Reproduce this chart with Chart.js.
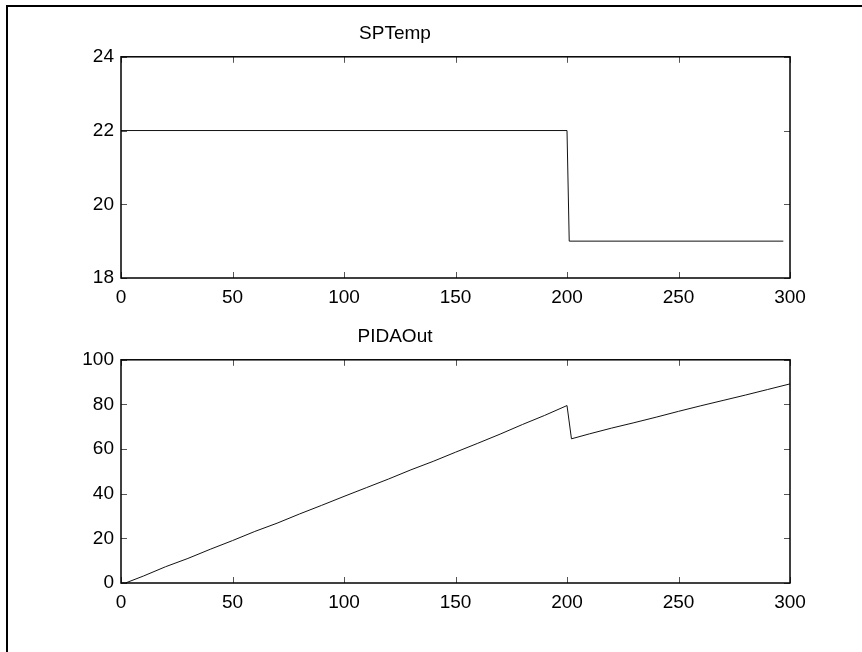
<!DOCTYPE html>
<html>
<head>
<meta charset="utf-8">
<script src="https://cdn.jsdelivr.net/npm/chart.js@4/dist/chart.umd.min.js"></script>
<style>
  html, body { margin: 0; padding: 0; background: #fff; overflow: hidden; }
  body { width: 862px; height: 652px; position: relative; }
  .frame {
    position: absolute; left: 6px; top: 5px;
    width: 900px; height: 700px;
    border: 2px solid #000;
  }
  canvas { position: absolute; left: 0; }
  #sptemp { top: 0; }
  #pidaout { top: 303px; }
</style>
</head>
<body>
<div class="frame"></div>
<canvas id="sptemp" width="862" height="310"></canvas>
<canvas id="pidaout" width="862" height="312"></canvas>
<script>
// x ticks shared by both plots
const time_ticks = [0, 50, 100, 150, 200, 250, 300];

// SPTemp (setpoint), step at t = 200
const sp_time = [0, 200, 201, 297];
const sp_value = [22, 22, 19, 19];
const sp_ticks = [18, 20, 22, 24];

// PIDAOut (controller output)
const pid_time = [0, 2, 10, 20, 30, 40, 50, 60, 70, 80, 90, 100, 110, 120, 130, 140, 150,
  160, 170, 180, 190, 200, 202, 210, 220, 230, 240, 250, 260, 270, 280, 290, 300];
const pid_value = [0, 0, 3.1, 7.3, 11.0, 15.1, 19.0, 23.1, 26.8, 30.9, 34.8, 38.8, 42.7, 46.6,
  50.7, 54.5, 58.6, 62.6, 66.7, 71.0, 75.1, 79.5, 64.6, 66.8, 69.4, 71.8, 74.3, 76.9, 79.4,
  81.8, 84.2, 86.7, 89.2];
const pid_ticks = [0, 20, 40, 60, 80, 100];

Chart.defaults.font.family = "'Liberation Sans', Arial, sans-serif";
Chart.defaults.font.size = 19;
Chart.defaults.color = "#000";

// matlab style box with inward ticks on all four sides
const boxPlugin = {
  id: "matlabBox",
  afterDatasetsDraw(chart) {
    const ctx = chart.ctx;
    const a = chart.chartArea;
    const xs = chart.scales.x;
    const ys = chart.scales.y;
    const len = 6;
    ctx.save();
    ctx.strokeStyle = "#555";
    ctx.lineWidth = 1;
    ctx.beginPath();
    xs.ticks.forEach(function (t) {
      const px = Math.round(xs.getPixelForValue(t.value)) + 0.5;
      ctx.moveTo(px, a.bottom);
      ctx.lineTo(px, a.bottom - len);
      ctx.moveTo(px, a.top);
      ctx.lineTo(px, a.top + len);
    });
    ys.ticks.forEach(function (t) {
      const py = Math.round(ys.getPixelForValue(t.value)) + 0.5;
      ctx.moveTo(a.left, py);
      ctx.lineTo(a.left + len, py);
      ctx.moveTo(a.right, py);
      ctx.lineTo(a.right - len, py);
    });
    ctx.stroke();
    ctx.strokeStyle = "#000";
    ctx.lineWidth = 1.5;
    ctx.strokeRect(a.left, a.top, a.right - a.left, a.bottom - a.top);
    ctx.restore();
  },
};

function makePoints(xs, ys) {
  return xs.map(function (x, i) {
    return { x: x, y: ys[i] };
  });
}

function makeChart(id, title, xs, ys, yTicks, xHeight) {
  const config = {
    type: "scatter",
    data: {
      datasets: [
        {
          data: makePoints(xs, ys),
          showLine: true,
          borderColor: "#111",
          borderWidth: 1,
          pointRadius: 0,
          tension: 0,
        },
      ],
    },
    options: {
      responsive: false,
      animation: false,
      layout: { padding: { left: 0, right: 72, top: 0, bottom: 0 } },
      plugins: {
        legend: { display: false },
        tooltip: { enabled: false },
        title: {
          display: true,
          text: title,
          font: { size: 19, weight: "normal" },
          color: "#000",
          padding: { top: 22, bottom: 12 },
        },
      },
      scales: {
        x: {
          type: "linear",
          min: time_ticks[0],
          max: time_ticks[time_ticks.length - 1],
          grid: { display: false, drawTicks: false },
          border: { display: false },
          afterBuildTicks: function (scale) {
            scale.ticks = time_ticks.map(function (v) { return { value: v }; });
          },
          afterFit: function (scale) { scale.height = xHeight; },
          ticks: { padding: 8, autoSkip: false, maxRotation: 0 },
        },
        y: {
          min: yTicks[0],
          max: yTicks[yTicks.length - 1],
          grid: { display: false, drawTicks: false },
          border: { display: false },
          afterBuildTicks: function (scale) {
            scale.ticks = yTicks.map(function (v) { return { value: v }; });
          },
          afterFit: function (scale) { scale.width = 121; },
          ticks: { padding: 7, crossAlign: "near" },
        },
      },
    },
    plugins: [boxPlugin],
  };
  return new Chart(document.getElementById(id), config);
}

makeChart("sptemp", "SPTemp", sp_time, sp_value, sp_ticks, 32);
makeChart("pidaout", "PIDAOut", pid_time, pid_value, pid_ticks, 32);
</script>
</body>
</html>
